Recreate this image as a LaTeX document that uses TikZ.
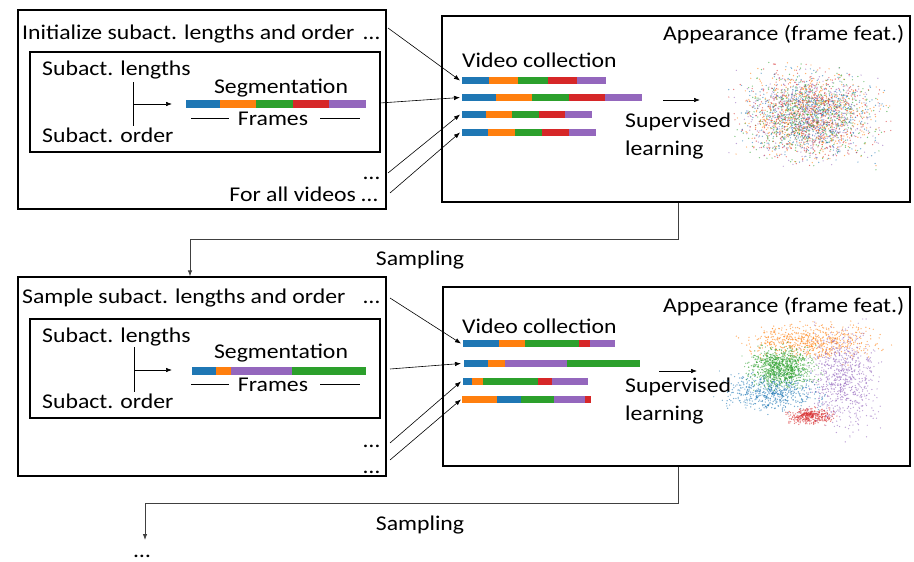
\documentclass[tikz,border=0pt]{standalone}
\usepackage{fontspec}
\setmainfont{Carlito}[FakeStretch=1.13]
\usetikzlibrary{arrows.meta}
\definecolor{cb}{HTML}{1F77B4}
\definecolor{co}{HTML}{FF7F0E}
\definecolor{cg}{HTML}{2CA02C}
\definecolor{cr}{HTML}{D62728}
\definecolor{cp}{HTML}{9467BD}
\newcommand\segrow[3]{\foreach \xa/\xb/\cl in {#3}{\fill[\cl] (\xa,#1-#2) rectangle (\xb,#1+#2);}}
\newcommand\dotcloud[6]{\foreach \i in {1,...,#1}{%
  \pgfmathsetmacro\px{#2+#4*(rand+rand+rand)}%
  \pgfmathsetmacro\py{#3+#5*(rand+rand+rand)}%
  \fill[#6,opacity=.6] (\px,\py) circle (0.7pt);}}
\begin{document}
\begin{tikzpicture}[x=1pt,y=-1pt,
  font=\fontsize{21}{24}\selectfont,
  txt/.style={inner sep=0pt, anchor=base west},
  txr/.style={inner sep=0pt, anchor=base east},
  txc/.style={inner sep=0pt, anchor=base},
  box/.style={draw, line width=1.2pt, inner sep=0pt},
  arr/.style={-{Latex[length=6pt,width=4.5pt]}, line width=0.6pt},
  conn/.style={-{Latex[length=6pt,width=4.5pt]}, line width=0.8pt, draw=black!75}]
\useasboundingbox (0,0) rectangle (914,562);

% ---------- top row ----------
\node[box, minimum width=368pt, minimum height=199pt] (L1) at (202,109.5) {};
\node[box, minimum width=350pt, minimum height=100pt] (I1) at (205,102) {};
\node[box, minimum width=468pt, minimum height=186pt] (R1) at (676,109) {};

\node[txt] (t1) at (22,39) {Initialize subact. lengths and order};
\node[txr] (d11) at (380,39) {…};
\node[txt] (len1) at (42,75) {Subact. lengths};
\node[txt] (ord1) at (42,142) {Subact. order};
\node[txc] (seg1) at (281,93) {Segmentation};
\node[txc] (fr1) at (273,125) {Frames};
\node[txr] (d12) at (380,179) {…};
\node[txr] (all1) at (378,201) {For all videos …};

\draw[line width=0.6pt] (133,82) -- (133,126);
\draw[arr] (133,104) -- (172,104);
\segrow{104}{4}{186/220/cb,220/256/co,256/293/cg,293/329/cr,329/366/cp}
\draw[line width=0.6pt] ([xshift=-9pt]fr1.west) -- ++(-38,0);
\draw[line width=0.6pt] ([xshift=12pt]fr1.east) -- ++(40,0);

\node[txt] (app1) at (663,41) {Appearance (frame feat.)};
\node[txt] (vc1) at (462,67) {Video collection};
\node[txt] (sup1) at (625,127) {Supervised};
\node[txt] (lrn1) at (625,155) {learning};
\coordinate (la1) at (663,100);
\coordinate (lb1) at (700,100);
\draw[arr] (la1) -- (lb1);

\segrow{80.5}{3.5}{462/489/cb,489/518/co,518/548/cg,548/577/cr,577/606/cp}
\segrow{97.5}{3.5}{462/496/cb,496/532/co,532/569/cg,569/605/cr,605/642/cp}
\segrow{114.5}{3.5}{462/486/cb,486/512/co,512/539/cg,539/565/cr,565/592/cp}
\segrow{132.5}{3.5}{462/488/cb,488/515/co,515/542/cg,542/569/cr,569/596/cp}

\coordinate (s11) at (388,28);  \coordinate (e11) at (460,80.5);
\coordinate (s12) at (380,103); \coordinate (e12) at (460,97.5);
\coordinate (s13) at (388,173); \coordinate (e13) at (460,114.5);
\coordinate (s14) at (390,193); \coordinate (e14) at (460,132.5);
\draw[arr] (s11) -- (e11);
\draw[arr] (s12) -- (e12);
\draw[arr] (s13) -- (e13);
\draw[arr] (s14) -- (e14);

\pgfmathsetseed{7}
\foreach \i in {1,...,560}{\foreach \c in {cb,co,cg,cr,cp}{%
  \pgfmathsetmacro\px{810+30*(rand+rand+rand)}%
  \pgfmathsetmacro\py{115+20*(rand+rand+rand)}%
  \fill[\c,opacity=.6] (\px,\py) circle (0.7pt);}}

% ---------- bottom row ----------
\node[box, minimum width=368pt, minimum height=199pt] (L2) at (202,376.5) {};
\node[box, minimum width=350pt, minimum height=99pt] (I2) at (205,368.5) {};
\node[box, minimum width=467pt, minimum height=179pt] (R2) at (676.5,376.5) {};

% ---------- sampling 1 ----------
\coordinate (k1) at (678,239);
\coordinate (k2) at (190,239);
\draw[conn] (R1.south -| k1) -- (k1) -- (k2) -- (k2 |- L2.north);
\node[txc] (samp1) at (420,265) {Sampling};

\node[txt] (t2) at (22,303) {Sample subact. lengths and order};
\node[txr] (d21) at (380,303) {…};
\node[txt] (len2) at (42,342) {Subact. lengths};
\node[txt] (ord2) at (42,408) {Subact. order};
\node[txc] (seg2) at (281,358) {Segmentation};
\node[txc] (fr2) at (273,391) {Frames};
\node[txr] (d22) at (380,447) {…};
\node[txr] (d23) at (380,473) {…};

\draw[line width=0.6pt] (134,347) -- (134,392);
\draw[arr] (134,370) -- (172,370);
\segrow{370.5}{4}{192/216/cb,216/231/co,231/292/cp,292/366/cg}
\draw[line width=0.6pt] ([xshift=-9pt]fr2.west) -- ++(-38,0);
\draw[line width=0.6pt] ([xshift=12pt]fr2.east) -- ++(40,0);

\node[txt] (app2) at (663,312) {Appearance (frame feat.)};
\node[txt] (vc2) at (462,333) {Video collection};
\node[txt] (sup2) at (625,392) {Supervised};
\node[txt] (lrn2) at (625,420) {learning};
\coordinate (la2) at (659,371);
\coordinate (lb2) at (697,371);
\draw[arr] (la2) -- (lb2);

\segrow{343.5}{3.5}{463/499/cb,499/525/co,525/579/cg,579/590/cr,590/615/cp}
\segrow{363.5}{3.5}{464/488/cb,488/505/co,505/567/cp,567/640/cg}
\segrow{381.5}{3.5}{463/472/cb,472/483/co,483/538/cg,538/552/cr,552/588/cp}
\segrow{399.5}{3.5}{462/497/co,497/521/cb,521/554/cg,554/585/cp,585/591/cr}

\coordinate (s21) at (390,298); \coordinate (e21) at (461,343.5);
\coordinate (s22) at (390,369); \coordinate (e22) at (461,363.5);
\coordinate (s23) at (390,443); \coordinate (e23) at (461,381.5);
\coordinate (s24) at (390,460); \coordinate (e24) at (461,399.5);
\draw[arr] (s21) -- (e21);
\draw[arr] (s22) -- (e22);
\draw[arr] (s23) -- (e23);
\draw[arr] (s24) -- (e24);

\dotcloud{650}{812}{342}{30}{8}{co}
\dotcloud{750}{842}{378}{16}{22}{cp}
\dotcloud{600}{772}{392}{21}{9}{cb}
\dotcloud{950}{782}{367}{15}{9}{cg}
\dotcloud{350}{810}{416}{11}{3.5}{cr}

% ---------- sampling 2 ----------
\coordinate (k3) at (678,503);
\coordinate (k4) at (145,503);
\coordinate (k5) at (145,540);
\draw[conn] (R2.south -| k3) -- (k3) -- (k4) -- (k5);
\node[txc] (samp2) at (420,530) {Sampling};
\node[txc] (fin) at (142,557) {…};
\end{tikzpicture}
\end{document}
